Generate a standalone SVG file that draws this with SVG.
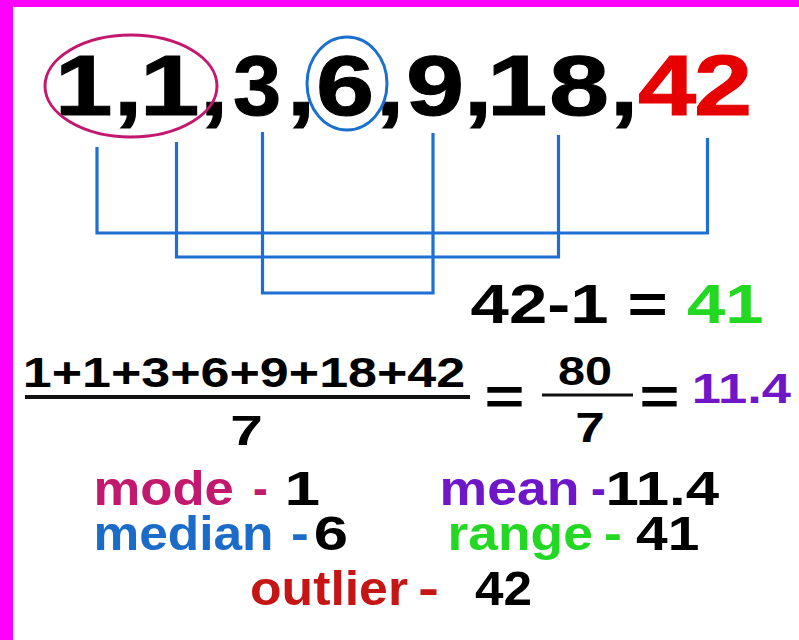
<svg xmlns="http://www.w3.org/2000/svg" width="799" height="640" viewBox="0 0 799 640">
<style>
text{font-family:"Liberation Sans",Arial,Helvetica,sans-serif;font-weight:bold;}
.big{font-size:86px;fill:#000;stroke:#000;stroke-width:1;}
.big.red{fill:#e60000;stroke:#e60000;}
.eq{font-size:56px;fill:#000;}
.eqs{font-size:52px;fill:#000;}
.frac{font-size:42px;fill:#000;}
.leg{font-size:48px;}
.blk{fill:#000;}
.pur{fill:#6f17c8;}
.grn{fill:#22d822;}
.mag{fill:#c2196f;}
.blu{fill:#1b6cc9;}
.rd{fill:#c51515;}
.conn{fill:none;stroke:#1f6fd3;stroke-width:3.2;}
.bar{stroke:#111;}
</style>
<rect x="0" y="0" width="799" height="640" fill="#fff"/>
<rect x="0" y="0" width="799" height="7" fill="#ff00ff"/>
<rect x="0" y="0" width="13" height="640" fill="#ff00ff"/>

<g id="sequence">
<text class="big" x="54.7" y="115" textLength="57.8" lengthAdjust="spacingAndGlyphs">1</text>
<text class="big" x="113.7" y="115" textLength="28.6" lengthAdjust="spacingAndGlyphs">,</text>
<text class="big" x="139.7" y="115" textLength="59.8" lengthAdjust="spacingAndGlyphs">1</text>
<text class="big" x="199.7" y="115" textLength="28.6" lengthAdjust="spacingAndGlyphs">,</text>
<text class="big" x="232.9" y="115" textLength="48.2" lengthAdjust="spacingAndGlyphs">3</text>
<text class="big" x="286.7" y="115" textLength="28.6" lengthAdjust="spacingAndGlyphs">,</text>
<text class="big" x="315.9" y="115" textLength="58.2" lengthAdjust="spacingAndGlyphs">6</text>
<text class="big" x="375.7" y="115" textLength="28.6" lengthAdjust="spacingAndGlyphs">,</text>
<text class="big" x="405.9" y="115" textLength="58.2" lengthAdjust="spacingAndGlyphs">9</text>
<text class="big" x="463.7" y="115" textLength="28.6" lengthAdjust="spacingAndGlyphs">,</text>
<text class="big" x="486.7" y="115" textLength="60.8" lengthAdjust="spacingAndGlyphs">1</text>
<text class="big" x="548.9" y="115" textLength="60.2" lengthAdjust="spacingAndGlyphs">8</text>
<text class="big" x="609.7" y="115" textLength="28.6" lengthAdjust="spacingAndGlyphs">,</text>
<text class="big red" x="638" y="115" textLength="58.2" lengthAdjust="spacingAndGlyphs">4</text>
<text class="big red" x="693.9" y="115" textLength="58.2" lengthAdjust="spacingAndGlyphs">2</text>
</g>

<g id="mode-ring">
<ellipse cx="131" cy="86" rx="86" ry="51" fill="none" stroke="#c2196f" stroke-width="3"/>
</g>
<g id="median-ring">
<ellipse cx="347" cy="83.5" rx="40" ry="46.5" fill="none" stroke="#1a70cc" stroke-width="3"/>
</g>

<g id="connectors">
<path class="conn" d="M97,147 V233 H707.5 V138"/>
<path class="conn" d="M176.5,142 V257 H558.5 V135"/>
<path class="conn" d="M262.5,132 V293 H433 V133"/>
</g>

<g id="range-calc">
<text class="eq" x="470.6" y="323" textLength="293" lengthAdjust="spacingAndGlyphs">42-1 = <tspan class="grn">41</tspan></text>
</g>

<g id="mean-calc">
<text class="frac" x="22.75" y="387" textLength="442.4" lengthAdjust="spacingAndGlyphs">1+1+3+6+9+18+42</text>
<line class="bar" x1="25" y1="397" x2="470" y2="397" stroke-width="4"/>
<text class="frac" style="font-size:43px" x="230.2" y="445" textLength="32.6" lengthAdjust="spacingAndGlyphs">7</text>
<text class="eqs" x="484.5" y="414" textLength="40" lengthAdjust="spacingAndGlyphs">=</text>
<text class="frac" style="font-size:40px" x="558" y="385" textLength="54" lengthAdjust="spacingAndGlyphs">80</text>
<line class="bar" x1="542" y1="395" x2="633" y2="395" stroke-width="3"/>
<text class="frac" x="575.3" y="442" textLength="29.5" lengthAdjust="spacingAndGlyphs">7</text>
<text class="eqs" x="639.5" y="414" textLength="40" lengthAdjust="spacingAndGlyphs">=</text>
<text class="frac pur" x="691.75" y="403" textLength="99.3" lengthAdjust="spacingAndGlyphs">11.4</text>
</g>

<g id="legend-mode">
<text class="leg mag" x="93.5" y="505" textLength="140.4" lengthAdjust="spacingAndGlyphs">mode</text>
<text class="leg mag" x="253" y="505" textLength="14.8" lengthAdjust="spacingAndGlyphs">-</text>
<text class="leg blk" x="284.6" y="505" textLength="35.6" lengthAdjust="spacingAndGlyphs">1</text>
</g>
<g id="legend-mean">
<text class="leg pur" x="439.5" y="505" textLength="140" lengthAdjust="spacingAndGlyphs">mean</text>
<text class="leg pur" x="591" y="505" textLength="14.8" lengthAdjust="spacingAndGlyphs">-</text>
<text class="leg blk" x="605.6" y="505" textLength="113.5" lengthAdjust="spacingAndGlyphs">11.4</text>
</g>
<g id="legend-median">
<text class="leg blu" x="93.5" y="550" textLength="180" lengthAdjust="spacingAndGlyphs">median</text>
<text class="leg blu" x="291" y="550" textLength="17.8" lengthAdjust="spacingAndGlyphs">-</text>
<text class="leg blk" x="313.8" y="550" textLength="34.3" lengthAdjust="spacingAndGlyphs">6</text>
</g>
<g id="legend-range">
<text class="leg grn" x="447.5" y="550" textLength="145.4" lengthAdjust="spacingAndGlyphs">range</text>
<text class="leg grn" x="604" y="550" textLength="17.8" lengthAdjust="spacingAndGlyphs">-</text>
<text class="leg blk" x="636" y="550" textLength="63.3" lengthAdjust="spacingAndGlyphs">41</text>
</g>
<g id="legend-outlier">
<text class="leg rd" x="250" y="605" textLength="158" lengthAdjust="spacingAndGlyphs">outlier</text>
<text class="leg rd" x="418" y="605" textLength="21" lengthAdjust="spacingAndGlyphs">-</text>
<text class="leg blk" x="475" y="605" textLength="57" lengthAdjust="spacingAndGlyphs">42</text>
</g>
</svg>
